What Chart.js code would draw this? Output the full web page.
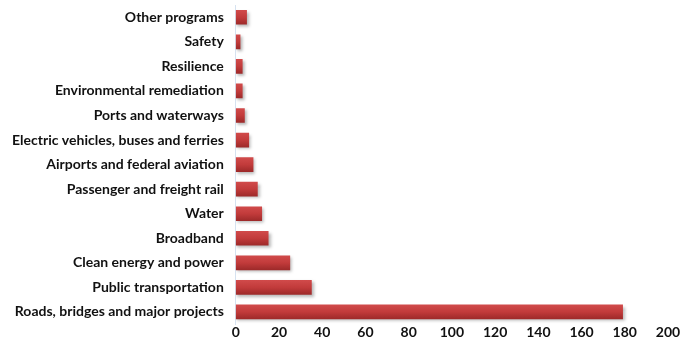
<!DOCTYPE html>
<html>
<head>
<meta charset="utf-8">
<script src="https://cdn.jsdelivr.net/npm/chart.js@4"></script>
<style>
  html, body { margin: 0; padding: 0; background: #fff; }
  #wrap { width: 692px; height: 350px; }
</style>
</head>
<body>
<div id="wrap"><canvas id="spendChart"></canvas></div>
<script>
const categories = [
  'Other programs',
  'Safety',
  'Resilience',
  'Environmental remediation',
  'Ports and waterways',
  'Electric vehicles, buses and ferries',
  'Airports and federal aviation',
  'Passenger and freight rail',
  'Water',
  'Broadband',
  'Clean energy and power',
  'Public transportation',
  'Roads, bridges and major projects'
];
const values = [5, 2, 3, 3, 4, 6, 8, 10, 12, 15, 25, 35, 179];
const xTicks = [0, 20, 40, 60, 80, 100, 120, 140, 160, 180, 200];

// soft drop shadow under the bars
const barShadow = {
  id: 'barShadow',
  beforeDatasetDraw(chart) {
    const c = chart.ctx;
    c.save();
    c.shadowColor = 'rgba(0,0,0,0.28)';
    c.shadowOffsetX = 2;
    c.shadowOffsetY = 2;
    c.shadowBlur = 3;
  },
  afterDatasetDraw(chart) {
    chart.ctx.restore();
  }
};

const ctx = document.getElementById('spendChart').getContext('2d');
const spendChart = new Chart(ctx, {
  type: 'bar',
  data: {
    labels: categories,
    datasets: [{
      data: values,
      backgroundColor: context => {
        const y = context.chart.scales && context.chart.scales.y;
        if (!y || y.top === undefined) return '#c0393b';
        const p = y.getPixelForValue(context.dataIndex);
        const g = context.chart.ctx.createLinearGradient(0, p - 7, 0, p + 7);
        g.addColorStop(0, '#d04a4a');
        g.addColorStop(0.5, '#c23b3b');
        g.addColorStop(1, '#9e2a2a');
        return g;
      },
      borderWidth: 0,
      barThickness: 14
    }]
  },
  options: {
    indexAxis: 'y',
    responsive: true,
    maintainAspectRatio: false,
    animation: false,
    layout: { padding: { top: 5, right: 24, left: 0, bottom: 9 } },
    plugins: {
      legend: { display: false },
      tooltip: { enabled: false }
    },
    scales: {
      x: {
        min: 0,
        max: 200,
        afterBuildTicks: axis => { axis.ticks = xTicks.map(v => ({ value: v })); },
        grid: { display: false, drawTicks: false },
        border: { display: false },
        ticks: {
          padding: 0,
          color: '#111',
          font: { family: 'Lato', size: 14, weight: 'bold' }
        }
      },
      y: {
        afterFit: s => { s.paddingTop = 0; s.paddingBottom = 0; },
        grid: { display: false, drawTicks: false },
        border: { display: true, color: '#d6e2f0', width: 1 },
        ticks: {
          padding: 12,
          color: '#111',
          font: { family: 'Lato', size: 14, weight: 'bold' }
        }
      }
    }
  },
  plugins: [barShadow]
});
</script>
</body>
</html>
